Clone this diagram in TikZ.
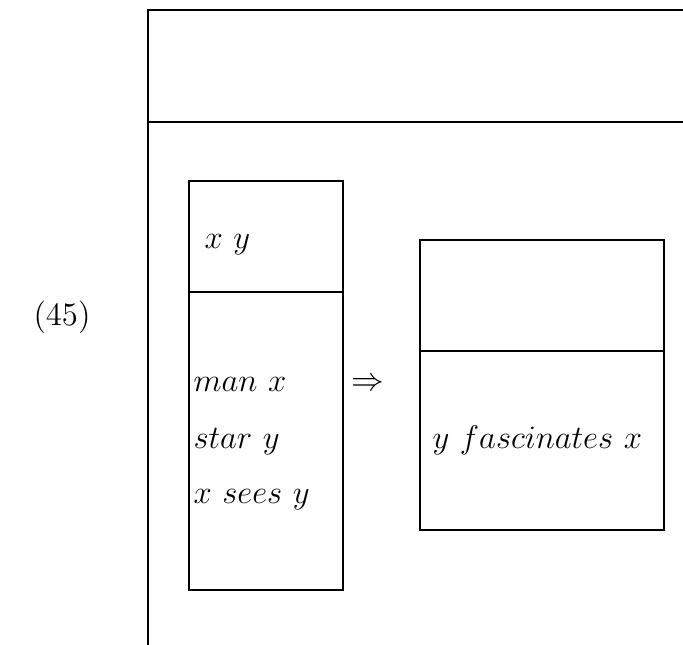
\documentclass[12pt,tikz,border=0pt]{standalone}
\usepackage{amsmath, amssymb}
\usepackage{tikz}
\usetikzlibrary{positioning}

\begin{document}
\begin{tikzpicture}[x=0.367pt, y=0.367pt, thin, every node/.style={inner sep=0pt},
  cond/.style={anchor=base west}]
	\useasboundingbox (0,0) rectangle (683,645);
	% === 编号 ===
	\node (num) at (62,328) {(45)};

	% === 外层框 (右侧与底部超出画面) ===
	\draw (683,635) -- (148,635) -- (148,0);
	\draw (148,523) -- (683,523);

	% === 左框：前件 ===
	\draw (189,55) rectangle (343,464);
	\draw (189,353) -- (343,353);
	\node[cond] (refs) at (204,396) {$x\ y$};
	\node[cond] (manx) at (193,253) {$man\ x$};
	\node[cond] (stary) at (193,196) {$star\ y$};
	\node[cond] (sees) at (193,141) {$x\ sees\ y$};

	% 蕴含
	\node (impl) at (368,260) {$\Rightarrow$};

	% === 右框：后件 ===
	\draw (420,115) rectangle (664,405);
	\draw (420,294) -- (664,294);
	\node[cond] (fasc) at (432,196) {$y\ fascinates\ x$};
\end{tikzpicture}
\end{document}
